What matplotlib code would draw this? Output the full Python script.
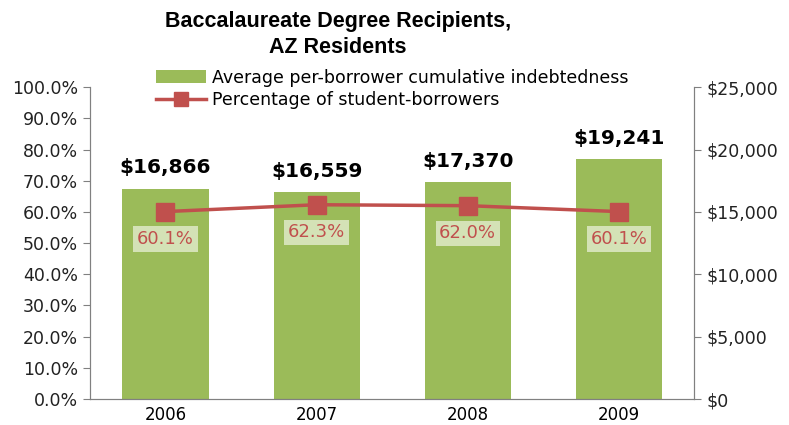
import numpy as np
import matplotlib.pyplot as plt
from matplotlib.ticker import FuncFormatter

years = ['2006', '2007', '2008', '2009']
debt = [16866, 16559, 17370, 19241]          # average cumulative indebtedness, $
pct_borrowers = [60.1, 62.3, 62.0, 60.1]     # percentage of student-borrowers

green = '#9BBB59'
red = '#C0504D'
grey = '#808080'

plt.rcParams['font.family'] = 'DejaVu Sans'

fig = plt.figure(figsize=(7.89, 4.25), dpi=100)
ax = fig.add_axes([0.114, 0.061, 0.766, 0.734])
ax2 = ax.twinx()

x = np.arange(len(years))

# Bars on the right (dollar) axis, line on the left (percent) axis
bars = ax2.bar(x, debt, width=0.57, color=green, zorder=1,
               label='Average per-borrower cumulative indebtedness')
ax2.set_ylim(0, 25000)
ax2.set_yticks(np.arange(0, 25001, 5000))
ax2.yaxis.set_major_formatter(FuncFormatter(lambda v, p: f'${v:,.0f}'))

for xi, d in zip(x, debt):
    ax2.text(xi, d + 900, f'${d:,}', ha='center', va='bottom',
             fontsize=14.5, fontweight='bold', color='black')

# put the percent axis on top so the line draws over the bars
ax.set_zorder(ax2.get_zorder() + 1)
ax.patch.set_visible(False)

line, = ax.plot(x, pct_borrowers, color=red, linewidth=2.5, marker='s',
                markersize=12.5, label='Percentage of student-borrowers')
ax.set_ylim(0, 100)
ax.set_yticks(np.arange(0, 101, 10))
ax.yaxis.set_major_formatter(FuncFormatter(lambda v, p: f'{v:.1f}%'))
ax.set_xlim(-0.5, len(years) - 0.5)

for xi, p in zip(x, pct_borrowers):
    ax.text(xi, p - 8.8, f'{p:.1f}%', ha='center', va='center', fontsize=13,
            color=red,
            bbox=dict(boxstyle='square,pad=0.2', facecolor='#D4E2B6',
                      edgecolor='none'))

# category ticks sit between the bars, labels centred under them
ax.set_xticks(np.arange(-0.5, len(years), 1.0))
ax.set_xticklabels([])
ax.set_xticks(x, minor=True)
ax.set_xticklabels(years, minor=True)
ax.tick_params(axis='x', which='minor', length=0, labelsize=12, pad=5)
ax.tick_params(axis='x', which='major', length=5, color=grey, direction='out')

for a in (ax, ax2):
    a.spines['top'].set_visible(False)
    for s in ('left', 'right', 'bottom'):
        a.spines[s].set_color(grey)
    a.tick_params(axis='y', colors=grey, labelcolor='#222222', labelsize=12.5,
                  length=5)
ax2.tick_params(axis='x', length=0)
ax2.set_xticks([])

ax.legend([bars, line],
          ['Average per-borrower cumulative indebtedness',
           'Percentage of student-borrowers'],
          loc='center', bbox_to_anchor=(0.5, 0.995), frameon=False,
          fontsize=12.5, handlelength=2.9, handletextpad=0.3, labelspacing=0.25,
          borderpad=0, markerscale=0.8)

fig.suptitle('Baccalaureate Degree Recipients,\nAZ Residents', x=0.428,
             y=0.975, fontsize=15.5, fontweight='bold', linespacing=1.35,
             family='Liberation Sans')

fig.savefig('out.png', dpi=100)
